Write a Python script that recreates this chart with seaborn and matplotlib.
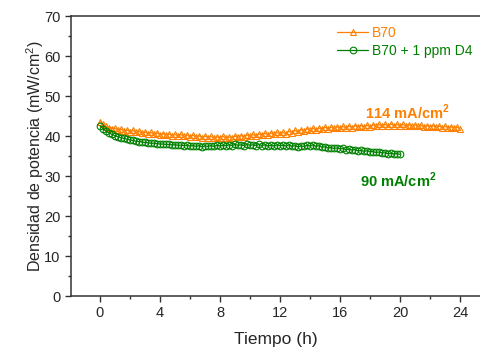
import numpy as np
import pandas as pd
import matplotlib
matplotlib.use("Agg")
import matplotlib.pyplot as plt
import seaborn as sns

# ---- data ----
t_b70 = [round(i * 0.2, 1) for i in range(121)]
p_b70 = [43.6, 42.9, 42.4, 42.1, 41.8, 41.9, 41.5, 41.7, 41.3, 41.5, 41.1,
         41.4, 40.9, 41.2, 40.7, 41.0, 40.6, 40.9, 40.4, 40.8, 40.3,
         40.6, 40.2, 40.5, 40.1, 40.4, 40.0, 40.4, 39.9, 40.3, 39.8,
         40.2, 39.7, 40.1, 39.6, 40.0, 39.6, 39.9, 39.5, 39.8, 39.5,
         39.9, 39.5, 39.8, 39.6, 40.0, 39.7, 40.1, 39.8, 40.3, 39.9,
         40.4, 40.0, 40.5, 40.2, 40.7, 40.3, 40.8, 40.4, 40.9, 40.5,
         40.9, 40.6, 41.2, 40.8, 41.4, 41.0, 41.6, 41.2, 41.8, 41.4,
         41.9, 41.5, 42.0, 41.7, 42.2, 41.8, 42.2, 41.9, 42.3, 42.0,
         42.4, 42.0, 42.5, 42.1, 42.6, 42.2, 42.6, 42.3, 42.7, 42.3,
         42.8, 42.4, 42.9, 42.5, 42.9, 42.5, 43.0, 42.6, 42.9, 42.5,
         42.9, 42.5, 42.8, 42.4, 42.8, 42.4, 42.7, 42.3, 42.6, 42.3,
         42.6, 42.2, 42.5, 42.1, 42.4, 42.1, 42.3, 42.0, 42.2, 41.8]
t_d4 = [round(i * 0.2, 1) for i in range(101)]
p_d4 = [42.6, 41.8, 41.2, 40.8, 40.4, 40.1, 39.8, 39.6, 39.4, 39.2, 39.0,
        38.9, 38.7, 38.6, 38.5, 38.4, 38.3, 38.2, 38.2, 38.1, 38.0,
        38.0, 37.9, 37.9, 37.8, 37.8, 37.7, 37.7, 37.6, 37.7, 37.5,
        37.6, 37.4, 37.6, 37.3, 37.5, 37.4, 37.6, 37.4, 37.7, 37.5,
        37.7, 37.6, 37.8, 37.6, 37.9, 37.7, 37.8, 37.6, 37.9, 37.7,
        37.8, 37.6, 37.9, 37.6, 37.8, 37.5, 37.7, 37.5, 37.8, 37.6,
        37.7, 37.5, 37.8, 37.4, 37.6, 37.3, 37.5, 37.4, 37.7, 37.5,
        37.8, 37.4, 37.6, 37.2, 37.3, 37.0, 37.1, 36.9, 37.0, 36.8,
        36.9, 36.6, 36.7, 36.5, 36.6, 36.3, 36.4, 36.2, 36.3, 36.1,
        36.1, 35.9, 36.0, 35.8, 35.8, 35.6, 35.7, 35.5, 35.6, 35.4]

labels = ["B70", "B70 + 1 ppm D4"]
x_ticks = [0, 4, 8, 12, 16, 20, 24]
y_ticks = [0, 10, 20, 30, 40, 50, 60, 70]

orange = "#FF7F00"
green = "#008000"

sns.set_style("ticks")
plt.rcParams["font.family"] = ["Liberation Sans", "DejaVu Sans"]
plt.rcParams["mathtext.fontset"] = "custom"
plt.rcParams["mathtext.rm"] = "Liberation Sans"
plt.rcParams["mathtext.bf"] = "Liberation Sans:bold"

fig = plt.figure(figsize=(4.81, 3.51), dpi=100)
ax = fig.add_axes([71 / 481, 1 - 296 / 351, 1 - 71 / 481, (296 - 16) / 351])

sns.lineplot(x=t_b70, y=p_b70, ax=ax, color=orange, lw=0.9, marker="^",
             markersize=4.8, markerfacecolor="none", markeredgecolor=orange,
             markeredgewidth=0.8, label=labels[0])
sns.lineplot(x=t_d4, y=p_d4, ax=ax, color=green, lw=0.9, marker="o",
             markersize=4.8, markerfacecolor="none", markeredgecolor=green,
             markeredgewidth=0.8, label=labels[1])

ax.set_xlim(-1.93, 25.4)
ax.set_ylim(0, 70)
ax.set_xticks(x_ticks)
ax.set_xticks([x + 2 for x in x_ticks[:-1]], minor=True)
ax.set_yticks(y_ticks)
ax.set_yticks([y + 5 for y in y_ticks[:-1]], minor=True)
ax.tick_params(axis="both", which="major", length=4, width=1, labelsize=10.5,
               direction="out", color="#333333")
ax.tick_params(axis="both", which="minor", length=2.5, width=1, direction="out",
               color="#333333")
for s in ["left", "bottom", "top"]:
    ax.spines[s].set_linewidth(1.1)
    ax.spines[s].set_color("#333333")
ax.spines["right"].set_visible(False)

ax.set_xlabel("Tiempo (h)", fontsize=12.5, labelpad=8)
ax.set_ylabel("Densidad de potencia (mW/cm$^2$)", fontsize=11.5, labelpad=-1)

ax.text(20.5, 46.0, "114 mA/cm$^\\mathbf{2}$", color=orange, fontsize=10.5,
        fontweight="bold", ha="center", va="center")
ax.text(19.9, 29.0, "90 mA/cm$^\\mathbf{2}$", color=green, fontsize=10.5,
        fontweight="bold", ha="center", va="center")

leg = ax.legend(loc="upper right", bbox_to_anchor=(1.01, 1.01), frameon=False,
                fontsize=10, handlelength=2.2, handletextpad=0.3,
                labelspacing=0.3, labelcolor="linecolor", numpoints=1)

fig.savefig("out.png", dpi=100)
